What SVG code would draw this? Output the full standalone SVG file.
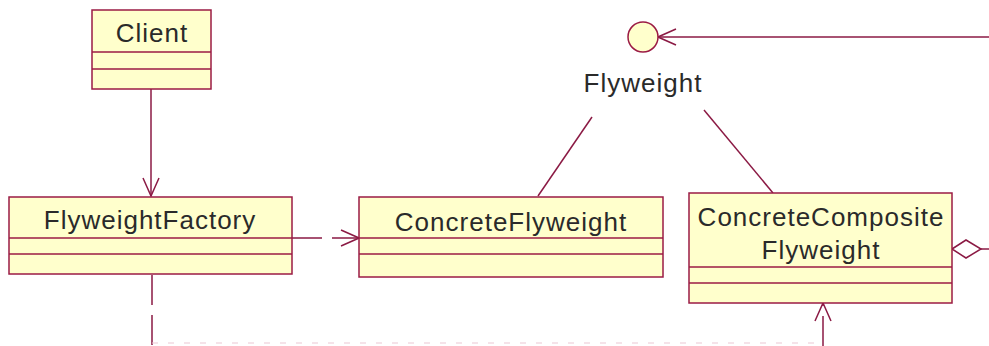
<svg xmlns="http://www.w3.org/2000/svg" width="989" height="346" viewBox="0 0 989 346">
<style>
.box{fill:#FFFFCC;stroke:#9B1B44;stroke-width:1.5}
.div{stroke:#9B1B44;stroke-width:1.5}
.t{font-family:"Liberation Sans",Arial,sans-serif;font-size:26px;letter-spacing:1px;fill:#2a2a2a;text-anchor:middle}
.ln{stroke:#8B1A44;stroke-width:1.5;fill:none}
.dash{stroke-dasharray:30 10}
</style>
<defs>
<marker id="open" viewBox="0 0 20 20" refX="19" refY="10" markerWidth="20" markerHeight="20" markerUnits="userSpaceOnUse" orient="auto">
<path d="M1,2 L19,10 L1,18" fill="none" stroke="#8B1A44" stroke-width="1.5"/>
</marker>
</defs>
<rect width="989" height="346" fill="#FFFFFF"/>
<g id="connectors">
<line class="ln" x1="151" y1="89" x2="151" y2="196" marker-end="url(#open)"/>
<line class="ln dash" x1="292" y1="238" x2="359" y2="238" marker-end="url(#open)"/>
<line class="ln dash" x1="152" y1="275" x2="152" y2="346"/>
<line x1="152" y1="343" x2="823" y2="343" stroke="#EBC8D4" stroke-width="1.2" stroke-dasharray="6 10"/>
<line class="ln dash" x1="823" y1="346" x2="823" y2="303" stroke-dasharray="16 10" marker-end="url(#open)"/>
<line class="ln" x1="989" y1="37" x2="658" y2="37" marker-end="url(#open)"/>
<line class="ln" x1="592" y1="117" x2="538" y2="196"/>
<line class="ln" x1="704" y1="110" x2="773" y2="193"/>
<path class="ln" d="M952,249 L966,240 L981,249 L966,258 Z"/>
<line class="ln" x1="981" y1="249" x2="989" y2="249"/>
</g>
<g id="client">
<rect class="box" x="92" y="10" width="119" height="79"/>
<line class="div" x1="92" y1="52" x2="211" y2="52"/>
<line class="div" x1="92" y1="69" x2="211" y2="69"/>
<text class="t" x="152" y="42">Client</text>
</g>
<g id="flyweightFactory">
<rect class="box" x="9" y="197" width="283" height="77"/>
<line class="div" x1="9" y1="238" x2="292" y2="238"/>
<line class="div" x1="9" y1="254" x2="292" y2="254"/>
<text class="t" x="150" y="229">FlyweightFactory</text>
</g>
<g id="concreteFlyweight">
<rect class="box" x="359" y="197" width="304" height="80"/>
<line class="div" x1="359" y1="238" x2="663" y2="238"/>
<line class="div" x1="359" y1="254" x2="663" y2="254"/>
<text class="t" x="511" y="231">ConcreteFlyweight</text>
</g>
<g id="concreteCompositeFlyweight">
<rect class="box" x="689" y="193" width="263" height="110"/>
<line class="div" x1="689" y1="267" x2="952" y2="267"/>
<line class="div" x1="689" y1="283" x2="952" y2="283"/>
<text class="t" x="821" y="226">ConcreteComposite</text>
<text class="t" x="821" y="259">Flyweight</text>
</g>
<g id="flyweight">
<circle cx="643" cy="37" r="15" fill="#FFFFCC" stroke="#9B1B44" stroke-width="1.5"/>
<text class="t" x="643" y="92">Flyweight</text>
</g>
</svg>
